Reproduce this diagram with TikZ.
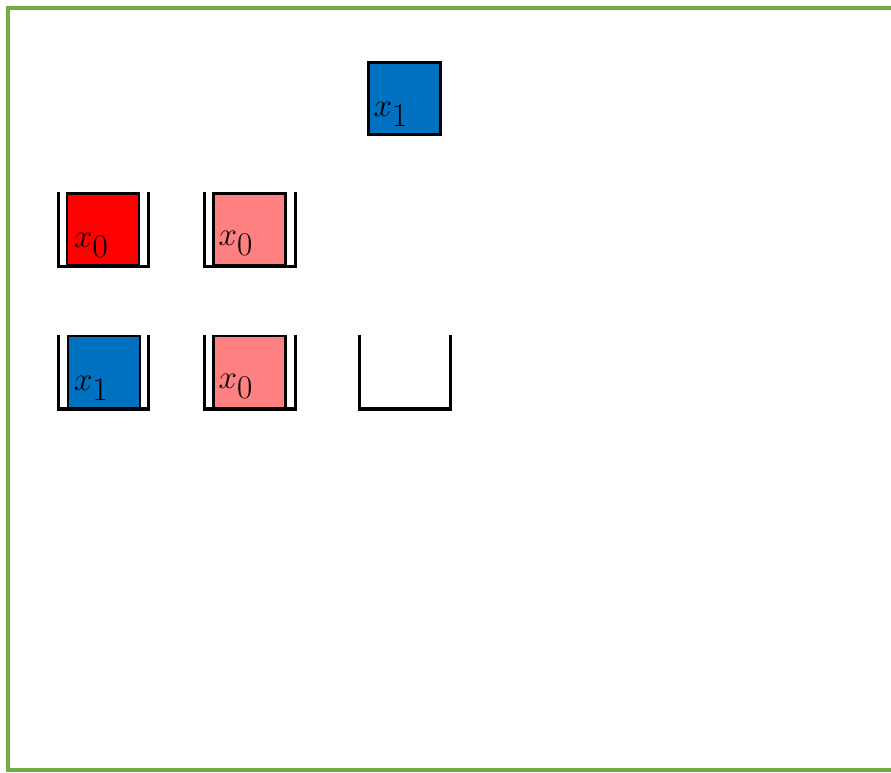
\documentclass[tikz,border=0pt]{standalone}
\definecolor{itemred}{RGB}{255, 0, 0}
\definecolor{itempink}{RGB}{255, 128, 128}
\definecolor{itemblue}{RGB}{0, 112, 192}
\definecolor{framegreen}{RGB}{112, 173, 71}
\usepackage{tikz}
\usetikzlibrary{positioning, calc}
\usepackage{amsmath}

\tikzset{
  item/.style={draw=black, line width=1.6pt, minimum width=54pt, minimum height=54pt, inner sep=0pt},
  bin/.style={minimum width=67.5pt, minimum height=55.5pt, inner sep=0pt},
  wall/.style={draw=black, line width=2.4pt},
  tag/.style={anchor=base west, inner sep=0pt, font=\fontsize{38}{44}\selectfont},
}

\begin{document}
\begin{tikzpicture}[x=0.75pt, y=-0.75pt]
  \useasboundingbox (0,0) rectangle (891,772);
  % outer frame
  \draw[framegreen, line width=2.4pt] (900,8) -- (8,8) -- (8,770) -- (900,770);

  % incoming item
  \node[item, fill=itemblue] (top) at (404.5,98.5) {};
  \node[tag] (topx) at ($(top.south west)+(6,-19)$) {$x_1$};

  % first row of bins
  \node[bin] (b11) at (103.5,229.2) {};
  \node[bin] (b12) at (250,229.2) {};
  \node[item, fill=itemred] (i11) at (103,229.5) {};
  \node[item, fill=itempink] (i12) at (249.5,229.5) {};
  \node[tag] (t11) at ($(i11.south west)+(8,-19)$) {$x_0$};
  \node[tag] (t12) at ($(i12.south west)+(6,-21)$) {$x_0$};

  % second row of bins
  \node[bin] (b21) at (103.5,371.8) {};
  \node[bin] (b22) at (250,371.8) {};
  \node[bin] (b23) at (405,371.8) {};
  \node[item, fill=itemblue] (i21) at (104,372) {};
  \node[item, fill=itempink] (i22) at (249.5,372) {};
  \node[tag] (t21) at ($(i21.south west)+(7,-19)$) {$x_1$};
  \node[tag] (t22) at ($(i22.south west)+(6,-21)$) {$x_0$};

  % bin walls
  \draw[wall] (b11.north west) |- (b11.south east) -- (b11.north east);
  \draw[wall] (b12.north west) |- (b12.south east) -- (b12.north east);
  \draw[wall] (b21.north west) |- (b21.south east) -- (b21.north east);
  \draw[wall] (b22.north west) |- (b22.south east) -- (b22.north east);
  \draw[wall] (b23.north west) |- (b23.south east) -- (b23.north east);
\end{tikzpicture}
\end{document}
